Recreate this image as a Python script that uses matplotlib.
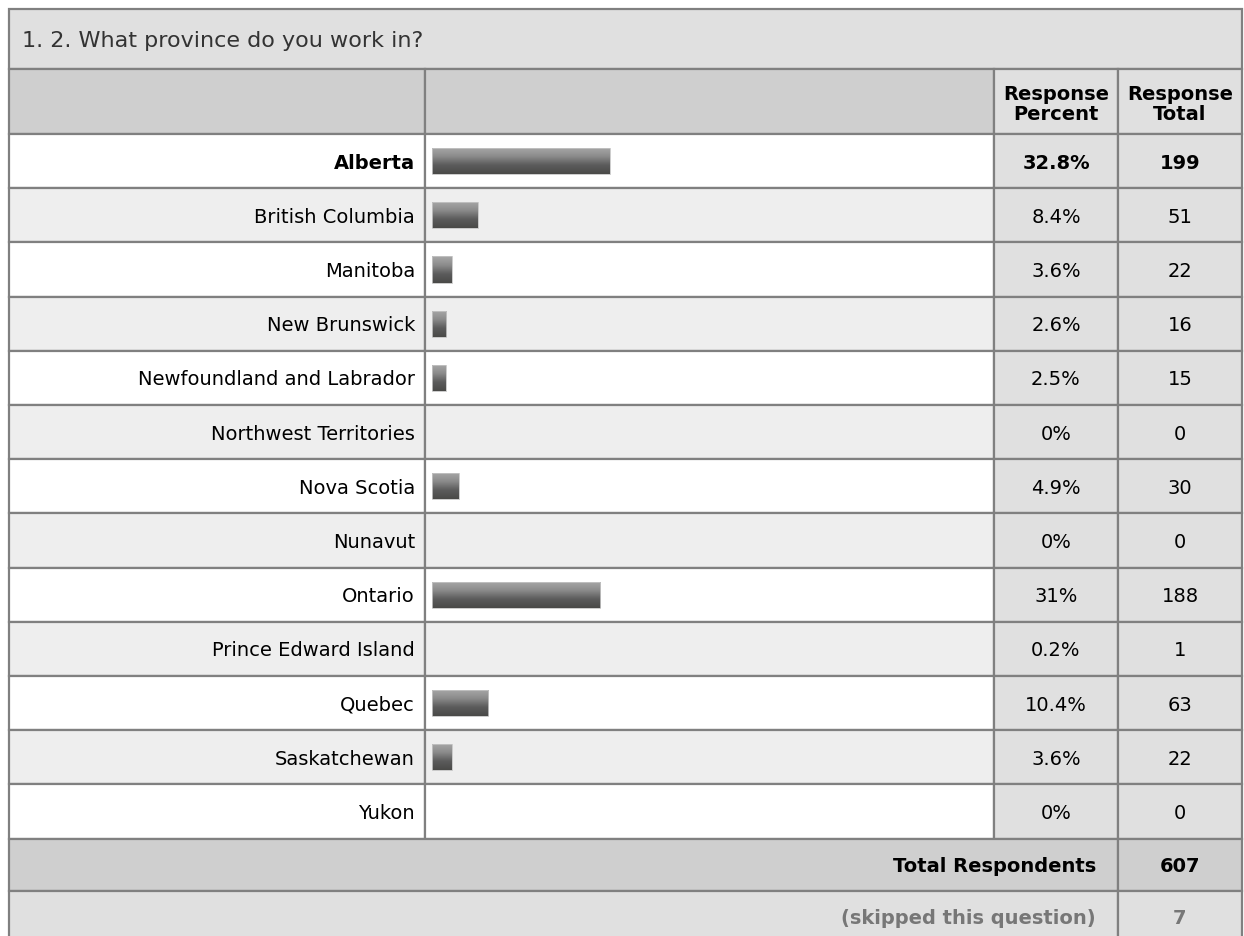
import numpy as np
import matplotlib.pyplot as plt
from matplotlib.patches import Rectangle

# survey data
provinces = ['Alberta', 'British Columbia', 'Manitoba', 'New Brunswick',
             'Newfoundland and Labrador', 'Northwest Territories', 'Nova Scotia',
             'Nunavut', 'Ontario', 'Prince Edward Island', 'Quebec',
             'Saskatchewan', 'Yukon']
percent = [32.8, 8.4, 3.6, 2.6, 2.5, 0, 4.9, 0, 31, 0.2, 10.4, 3.6, 0]
percent_labels = ['32.8%', '8.4%', '3.6%', '2.6%', '2.5%', '0%', '4.9%', '0%',
                  '31%', '0.2%', '10.4%', '3.6%', '0%']
totals = [199, 51, 22, 16, 15, 0, 30, 0, 188, 1, 63, 22, 0]
total_respondents = 607
skipped = 7
title = '1. 2. What province do you work in?'

W, H = 1244, 937
fig = plt.figure(figsize=(W / 100, H / 100), dpi=100)
ax = fig.add_axes([0, 0, 1, 1])
ax.set_xlim(0, W)
ax.set_ylim(H, 0)
ax.axis('off')

# table geometry (pixels)
x0, x_bar, x_pct, x_tot, x1 = 9, 425, 994, 1118, 1242
y_title, y_head, y_rows = 10, 70, 135
row_h = 54.2
n = len(provinces)
y_total = y_rows + n * row_h
y_skip = y_total + 52
line_c = '#808080'
font = 'DejaVu Sans'
fs = 14


def cell(x, y, w, h, color):
    ax.add_patch(Rectangle((x, y), w, h, facecolor=color, edgecolor=line_c,
                           linewidth=1.6, zorder=1))


# title row
cell(x0, y_title, x1 - x0, y_head - y_title, '#e0e0e0')
ax.text(22, (y_title + y_head) / 2 + 1, title, fontsize=16, color='#333333',
        va='center', ha='left', family=font)

# header row
cell(x0, y_head, x_bar - x0, y_rows - y_head, '#cfcfcf')
cell(x_bar, y_head, x_pct - x_bar, y_rows - y_head, '#cfcfcf')
cell(x_pct, y_head, x_tot - x_pct, y_rows - y_head, '#e0e0e0')
cell(x_tot, y_head, x1 - x_tot, y_rows - y_head, '#e0e0e0')
ax.text((x_pct + x_tot) / 2, (y_head + y_rows) / 2 + 2, 'Response\nPercent',
        fontsize=fs, fontweight='bold', ha='center', va='center',
        linespacing=1.0, family=font)
ax.text((x_tot + x1) / 2, (y_head + y_rows) / 2 + 2, 'Response\nTotal',
        fontsize=fs, fontweight='bold', ha='center', va='center',
        linespacing=1.0, family=font)

top = int(np.argmax(percent))
for i, name in enumerate(provinces):
    y = y_rows + i * row_h
    bg = 'white' if i % 2 == 0 else '#eeeeee'
    cell(x0, y, x_bar - x0, row_h, bg)
    cell(x_bar, y, x_pct - x_bar, row_h, bg)
    cell(x_pct, y, x_tot - x_pct, row_h, '#e0e0e0')
    cell(x_tot, y, x1 - x_tot, row_h, '#e0e0e0')
    wt = 'bold' if i == top else 'normal'
    yc = y + row_h / 2 + 1
    ax.text(415, yc, name, fontsize=fs, ha='right', va='center',
            fontweight=wt, family=font)
    ax.text((x_pct + x_tot) / 2, yc, percent_labels[i], fontsize=fs,
            ha='center', va='center', fontweight=wt, family=font)
    ax.text((x_tot + x1) / 2, yc, str(totals[i]), fontsize=fs,
            ha='center', va='center', fontweight=wt, family=font)

# footer rows
cell(x0, y_total, x_tot - x0, y_skip - y_total, '#cfcfcf')
cell(x_tot, y_total, x1 - x_tot, y_skip - y_total, '#cfcfcf')
ax.text(x_tot - 22, (y_total + y_skip) / 2 + 1, 'Total Respondents', fontsize=fs,
        fontweight='bold', ha='right', va='center', family=font)
ax.text((x_tot + x1) / 2, (y_total + y_skip) / 2 + 1, str(total_respondents),
        fontsize=fs, fontweight='bold', ha='center', va='center', family=font)
cell(x0, y_skip, x_tot - x0, 60, '#e0e0e0')
cell(x_tot, y_skip, x1 - x_tot, 60, '#e0e0e0')
ax.text(x_tot - 22, y_skip + 27, '(skipped this question)', fontsize=fs,
        fontweight='bold', color='#777777', ha='right', va='center', family=font)
ax.text((x_tot + x1) / 2, y_skip + 27, str(skipped), fontsize=fs,
        fontweight='bold', color='#777777', ha='center', va='center', family=font)

# bar axes over the bar column, x in percent
px_per_pct = 5.42
bar_start = 432
bx = fig.add_axes([x_bar / W, 1 - y_total / H, (x_pct - x_bar) / W, (y_total - y_rows) / H])
bx.axis('off')
bx.patch.set_alpha(0)

grad = np.linspace(0, 1, 64).reshape(-1, 1)
cmap = plt.matplotlib.colors.LinearSegmentedColormap.from_list(
    'bar', ['#a8a8a8', '#8c8c8c', '#5c5c5c', '#4a4a48'])
# bars narrower than a pixel are not visible in the original
shown = [i for i, v in enumerate(percent) if v * px_per_pct >= 1.5]
bars = bx.barh(shown, [percent[i] for i in shown], height=0.48, color='none',
               edgecolor='#c4c4c4', linewidth=0.6, zorder=3)
for b in bars:
    yb = b.get_y()
    im = bx.imshow(grad, cmap=cmap, aspect='auto',
                   extent=[0, b.get_width(), yb + b.get_height(), yb], zorder=2)
    im.set_clip_path(b)
bx.set_xlim(-(bar_start - x_bar) / px_per_pct, (x_pct - bar_start) / px_per_pct)
bx.set_ylim(n - 0.5, -0.5)

fig.savefig('out.png', dpi=100)
